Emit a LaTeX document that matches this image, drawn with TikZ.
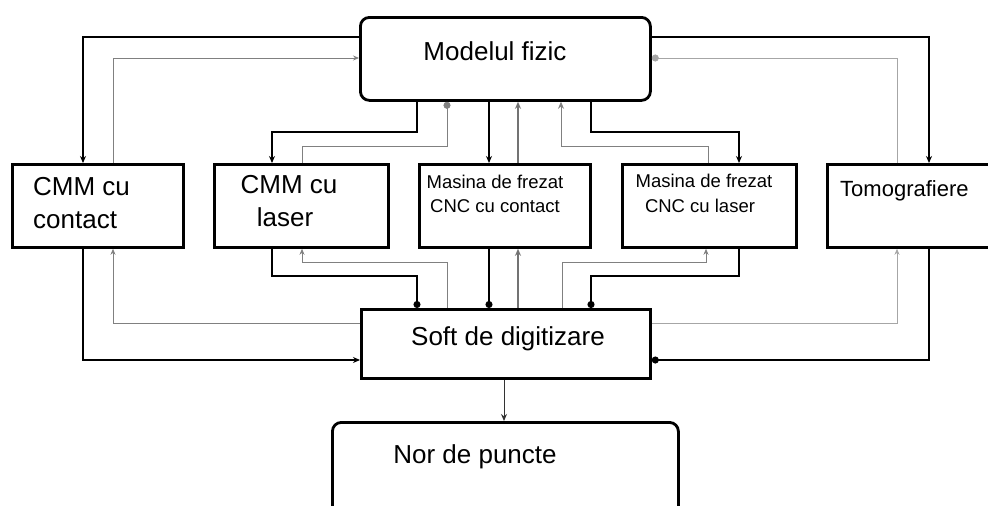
\documentclass[tikz,border=0pt]{standalone}
\usepackage{fontspec}
\setmainfont{Liberation Sans}
\usetikzlibrary{arrows.meta}
\begin{document}
\begin{tikzpicture}[x=1pt,y=-1pt,
  box/.style={draw,line width=2.8pt,inner sep=0pt,anchor=north west},
  rbox/.style={box,rounded corners=9pt},
  big/.style={font=\fontsize{26}{30}\selectfont,inner sep=0pt},
  mid/.style={font=\fontsize{22}{26}\selectfont,inner sep=0pt},
  small/.style={font=\fontsize{18.5}{22}\selectfont,inner sep=0pt},
  thk/.style={line width=2pt,black},
  med/.style={line width=1.3pt,black},
  thn/.style={line width=0.8pt,black!50},
  grey/.style={line width=1.6pt,black!55},
  tri/.style={-{Stealth[length=7pt,width=6pt]}},
  stri/.style={-{Stealth[length=6pt,width=5pt]}},
  dot/.style={-{Circle[length=7pt,width=7pt]}}]
\useasboundingbox (0,0) rectangle (988,506);
\clip (0,0) rectangle (988,506);
\fill[white] (0,0) rectangle (988,506);

% blocks
\node[rbox,minimum width=290pt,minimum height=83pt] (mf) at (359,16) {};
\node[box,minimum width=171pt,minimum height=83pt] (b1) at (11,163) {};
\node[box,minimum width=174pt,minimum height=83pt] (b2) at (213,163) {};
\node[box,minimum width=171pt,minimum height=83pt] (b3) at (418,163) {};
\node[box,minimum width=174pt,minimum height=83pt] (b4) at (621,163) {};
\node[box,minimum width=174pt,minimum height=83pt] (b5) at (826,163) {};
\node[box,minimum width=289pt,minimum height=69pt] (soft) at (360,308) {};
\node[rbox,minimum width=346pt,minimum height=110pt] (nor) at (331,421) {};

% labels
\node[big,anchor=base] (tmf) at (495,60) {Modelul fizic};
\node[big,anchor=base west] (t1a) at (33,195) {CMM cu};
\node[big,anchor=base west] (t1b) at (33,228) {contact};
\node[big,anchor=base] (t2a) at (289,193) {CMM cu};
\node[big,anchor=base] (t2b) at (285,226) {laser};
\node[small,anchor=base] (t3a) at (495,188) {Masina de frezat};
\node[small,anchor=base] (t3b) at (495,212) {CNC cu contact};
\node[small,anchor=base] (t4a) at (704,187) {Masina de frezat};
\node[small,anchor=base] (t4b) at (700,212) {CNC cu laser};
\node[mid,anchor=base west] (t5) at (840,196) {Tomografiere};
\node[big,anchor=base] (tsoft) at (508,345) {Soft de digitizare};
\node[big,anchor=base] (tnor) at (475,463) {Nor de puncte};

% upper links
\draw[thk,tri] (mf.west |- 0,37) -| (83,0 |- b1.north);
\draw[thn,stri] (113,0 |- b1.north) |- (mf.west |- 0,58);
\draw[med,tri] (417,0 |- mf.south) -- (417,132) -| (272,0 |- b2.north);
\draw[thn,dot] (302,0 |- b2.north) |- (447,146) -- (447,0 |- mf.south);
\draw[med,tri] (489,0 |- mf.south) -- (489,0 |- b3.north);
\draw[grey,tri] (518,0 |- b3.north) -- (518,0 |- mf.south);
\draw[thn,tri] (708,0 |- b4.north) |- (561,146) -- (561,0 |- mf.south);
\draw[med,tri] (591,0 |- mf.south) -- (591,132) -| (739,0 |- b4.north);
\draw[thk,tri] (mf.east |- 0,37) -| (929,0 |- b5.north);
\draw[thn,black!35,dot] (897,0 |- b5.north) |- (mf.east |- 0,58);

% lower links
\draw[thk,tri] (83,0 |- b1.south) |- (soft.west |- 0,360);
\draw[thn,stri] (soft.west |- 0,323) -| (113,0 |- b1.south);
\draw[med,dot] (272,0 |- b2.south) |- (417,276) -- (417,0 |- soft.north);
\draw[thn,stri] (447,0 |- soft.north) |- (302,262) -- (302,0 |- b2.south);
\draw[med,dot] (489,0 |- b3.south) -- (489,0 |- soft.north);
\draw[grey,tri] (518,0 |- soft.north) -- (518,0 |- b3.south);
\draw[thn,stri] (562,0 |- soft.north) |- (706,262) -- (706,0 |- b4.south);
\draw[thk,dot] (739,0 |- b4.south) |- (591,276) -- (591,0 |- soft.north);
\draw[thk,dot] (929,0 |- b5.south) |- (soft.east |- 0,360);
\draw[thn,black!35,stri] (soft.east |- 0,323) -| (897,0 |- b5.south);
\draw[line width=1pt,black!80,tri] (504,0 |- soft.south) -- (504,0 |- nor.north);
\end{tikzpicture}
\end{document}
